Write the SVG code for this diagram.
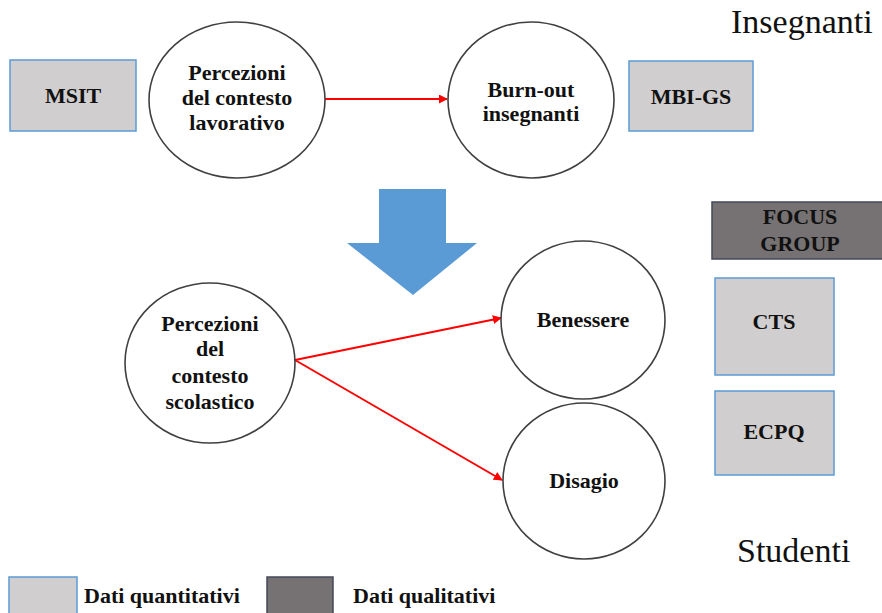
<svg xmlns="http://www.w3.org/2000/svg" width="882" height="613" viewBox="0 0 882 613">
<defs>
<style>
.ell{fill:#fff;stroke:#404040;stroke-width:1.6}
.qbox{fill:#d0cece;stroke:#5b9bd5;stroke-width:1.5}
.dbox{fill:#767172;stroke:#44485a;stroke-width:1.5}
.lbl{font-family:'Liberation Serif','DejaVu Serif',serif;font-weight:700;font-size:22px;fill:#111;text-anchor:middle}
.big{font-family:'Liberation Serif',serif;font-size:34px;fill:#111}
.con{stroke:#ff0000;stroke-width:2;fill:none;marker-end:url(#ah)}
</style>
<marker id="ah" viewBox="0 0 10 10" refX="9" refY="5" markerWidth="4.5" markerHeight="4.5" orient="auto" markerUnits="strokeWidth">
<path d="M0,0 L10,5 L0,10 z" fill="#ff0000"/>
</marker>
</defs>
<rect width="882" height="613" fill="#fff"/>

<text class="big" x="731" y="33">Insegnanti</text>
<text class="big" x="737" y="562">Studenti</text>

<g id="connectors">
<line class="con" x1="325" y1="99" x2="447" y2="99"/>
<line class="con" x1="295" y1="360" x2="501" y2="318"/>
<line class="con" x1="295" y1="360" x2="502" y2="480"/>
</g>

<g id="big-arrow">
<polygon points="379,189 446,189 446,243 477,243 413,295 347,243 379,243" fill="#5b9bd5"/>
</g>

<g id="msit">
<rect class="qbox" x="10" y="60" width="126" height="71"/>
<text class="lbl" x="73" y="103">MSIT</text>
</g>

<g id="percezioni-lavorativo">
<ellipse class="ell" cx="237" cy="100" rx="88" ry="78"/>
<text class="lbl" x="237" y="80">Percezioni</text>
<text class="lbl" x="237" y="105">del contesto</text>
<text class="lbl" x="237" y="130">lavorativo</text>
</g>

<g id="burnout">
<ellipse class="ell" cx="531" cy="100" rx="83" ry="78"/>
<text class="lbl" x="531" y="97">Burn-out</text>
<text class="lbl" x="531" y="121">insegnanti</text>
</g>

<g id="mbi-gs">
<rect class="qbox" x="629" y="61" width="124" height="70"/>
<text class="lbl" x="691" y="104">MBI-GS</text>
</g>

<g id="focus-group">
<rect class="dbox" x="712" y="202" width="172" height="57"/>
<text class="lbl" x="800" y="224">FOCUS</text>
<text class="lbl" x="800" y="251">GROUP</text>
</g>

<g id="cts">
<rect class="qbox" x="715" y="278" width="119" height="97"/>
<text class="lbl" x="774" y="329">CTS</text>
</g>

<g id="ecpq">
<rect class="qbox" x="715" y="391" width="119" height="84"/>
<text class="lbl" x="774" y="439">ECPQ</text>
</g>

<g id="percezioni-scolastico">
<ellipse class="ell" cx="210" cy="363" rx="85" ry="80"/>
<text class="lbl" x="210" y="331">Percezioni</text>
<text class="lbl" x="210" y="356">del</text>
<text class="lbl" x="210" y="383">contesto</text>
<text class="lbl" x="210" y="409">scolastico</text>
</g>

<g id="benessere">
<ellipse class="ell" cx="583" cy="320" rx="82" ry="79"/>
<text class="lbl" x="583" y="327">Benessere</text>
</g>

<g id="disagio">
<ellipse class="ell" cx="584" cy="481" rx="81" ry="78"/>
<text class="lbl" x="584" y="488">Disagio</text>
</g>

<g id="legend">
<rect class="qbox" x="9" y="577" width="68" height="40"/>
<text class="lbl" x="84" y="603" style="text-anchor:start">Dati quantitativi</text>
<rect class="dbox" x="267" y="577" width="66" height="40"/>
<text class="lbl" x="353" y="603" style="text-anchor:start">Dati qualitativi</text>
</g>
</svg>
